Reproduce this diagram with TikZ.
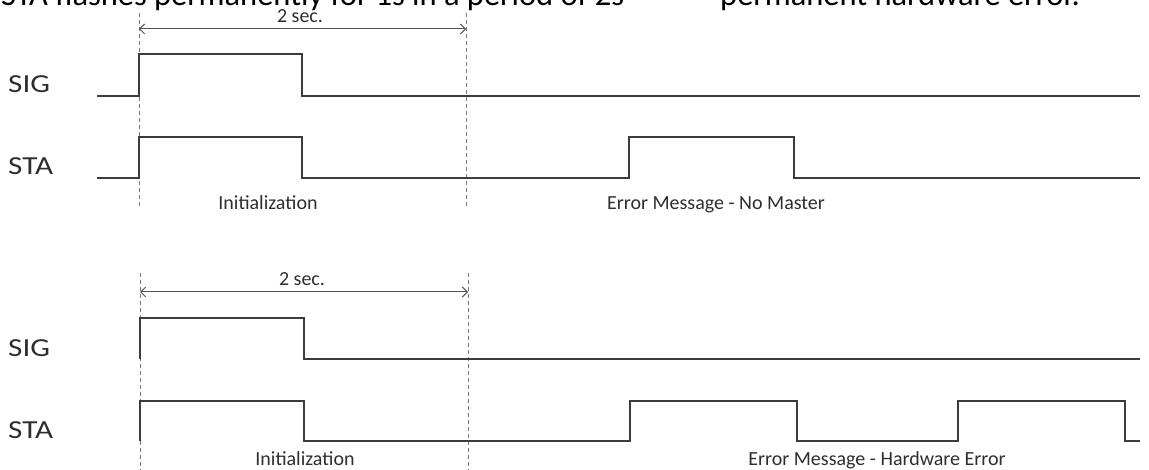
\documentclass[tikz,border=0pt]{standalone}
\usepackage{fontspec}
\setmainfont{Carlito}
\newfontfamily\labelfont[FakeStretch=1.2]{Carlito}
\usetikzlibrary{arrows.meta}
\definecolor{sigline}{HTML}{3C3C3C}
\definecolor{txt}{HTML}{2E2E2E}
\definecolor{guide}{HTML}{7A7A7A}
\begin{document}
\begin{tikzpicture}[x=1pt,y=-1pt,
  signal/.style={draw=sigline, line width=2pt, line join=miter},
  guideline/.style={draw=guide, line width=0.8pt, dash pattern=on 4pt off 3pt},
  dimarrow/.style={draw=guide!70!black, line width=1pt, {Straight Barb[length=5pt,width=10pt]}-{Straight Barb[length=5pt,width=10pt]}},
  siglabel/.style={anchor=base west, inner sep=0pt, text=txt, font=\labelfont\fontsize{26}{30}\selectfont},
  note/.style={anchor=base, inner sep=0pt, text=txt, font=\fontsize{20}{24}\selectfont},
  header/.style={anchor=base west, inner sep=0pt, text=black, font=\fontsize{32.5}{38}\selectfont}]
\useasboundingbox (0,0) rectangle (1149,470);
% header, cut off at the top
\begin{scope}
  \clip (0,0) rectangle (1149,470);
  \node[header] (h1) at (1,6) {STA flashes permanently for 1s in a period of 2s};
  \node[header] (h2) at (720,6) {permanent hardware error.};
\end{scope}
% ---------- upper diagram ----------
\coordinate (ua) at (139,29);
\coordinate (ub) at (466,29);
\draw[guideline] (139,13) -- (139,208);
\draw[guideline] (466,13) -- (466,208);
\draw[dimarrow] (ua) -- (ub);
\node[note] (ut) at (300,23) {2 sec.};
\node[siglabel] (usig) at (8,93) {SIG};
\node[siglabel] (usta) at (8,175) {STA};
\draw[signal] (97,96) -- (139,96) -- (139,54) -- (302,54) -- (302,96) -- (1140,96);
\draw[signal] (97,178) -- (139,178) -- (139,137) -- (302,137) -- (302,178)
  -- (629,178) -- (629,137) -- (794,137) -- (794,178) -- (1140,178);
\node[note] (uinit) at (268,210) {Initialization};
\node[note] (uerr) at (716,210) {Error Message - No Master};
% ---------- lower diagram ----------
\coordinate (la) at (140,292);
\coordinate (lb) at (468,292);
\draw[guideline] (140,273) -- (140,470);
\draw[guideline] (468,273) -- (468,470);
\draw[dimarrow] (la) -- (lb);
\node[note] (lt) at (302,286) {2 sec.};
\node[siglabel] (lsig) at (8,356) {SIG};
\node[siglabel] (lsta) at (8,438) {STA};
\draw[signal] (140,359) -- (140,318) -- (304,318) -- (304,359) -- (1140,359);
\draw[signal] (140,441) -- (140,401) -- (304,401) -- (304,441)
  -- (630,441) -- (630,401) -- (797,401) -- (797,441)
  -- (958,441) -- (958,401) -- (1125,401) -- (1125,441) -- (1140,441);
\node[note] (linit) at (305,465) {Initialization};
\node[note] (lerr) at (877,465) {Error Message - Hardware Error};
\end{tikzpicture}
\end{document}
